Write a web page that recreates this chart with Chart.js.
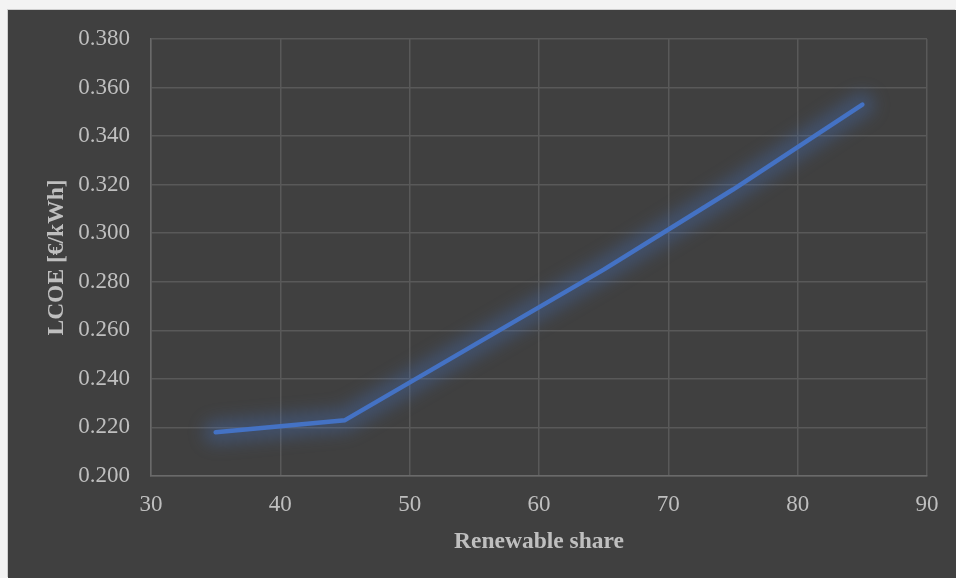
<!DOCTYPE html>
<html>
<head>
<meta charset="utf-8">
<script src="https://cdn.jsdelivr.net/npm/chart.js@4/dist/chart.umd.min.js"></script>
<style>
  html, body { margin: 0; padding: 0; background: #f3f3f3; }
  #frame {
    position: absolute; left: 8px; top: 10px;
    width: 948px; height: 568px;
    background: #404040;
    box-shadow: -1px -1px 0 #cfcfcf;
  }
  #frame canvas { display: block; }
</style>
</head>
<body>
<div id="frame"><canvas id="lcoeChart" width="948" height="568"></canvas></div>
<script>
// renewable share (%) vs LCOE (EUR/kWh)
const shares = [35, 45, 55, 65, 75, 85];
const lcoe = [0.218, 0.223, 0.254, 0.285, 0.318, 0.353];
const xTicks = [30, 40, 50, 60, 70, 80, 90];
const yTicks = [0.200, 0.220, 0.240, 0.260, 0.280, 0.300, 0.320, 0.340, 0.360, 0.380];

const serif = "'Liberation Serif', 'Times New Roman', serif";
const textGrey = '#bfbfbf';
const gridGrey = '#595959';

// wide blurred stroke under the line, follows the dataset's own points
const glow = {
  id: 'glow',
  beforeDatasetDraw(chart, args) {
    const pts = args.meta.data;
    if (!pts.length) return;
    const ctx = chart.ctx;
    ctx.save();
    ctx.filter = 'blur(8px)';
    ctx.strokeStyle = 'rgba(68, 114, 196, 0.32)';
    ctx.lineWidth = 24;
    ctx.lineJoin = 'round';
    ctx.lineCap = 'round';
    ctx.beginPath();
    ctx.moveTo(pts[0].x, pts[0].y);
    for (let i = 1; i < pts.length; i++) {
      ctx.lineTo(pts[i].x, pts[i].y);
    }
    ctx.stroke();
    ctx.restore();
  }
};

document.addEventListener('DOMContentLoaded', function () {
  const ctx = document.getElementById('lcoeChart').getContext('2d');

  const data = {
    datasets: [{
      label: 'LCOE',
      data: shares.map((s, i) => ({ x: s, y: lcoe[i] })),
      borderColor: '#4472C4',
      borderWidth: 4.5,
      borderCapStyle: 'round',
      borderJoinStyle: 'round',
      pointRadius: 0,
      tension: 0,
      fill: false
    }]
  };

  const options = {
    responsive: false,
    animation: false,
    layout: { padding: { top: 29, right: 29, left: 0, bottom: 0 } },
    scales: {
      x: {
        type: 'linear',
        min: 30,
        max: 90,
        afterBuildTicks: function (scale) {
          scale.ticks = xTicks.map(v => ({ value: v }));
        },
        afterFit: function (scale) { scale.height = 102; },
        grid: { color: gridGrey, lineWidth: 1.5, drawTicks: false },
        border: { color: '#6a6a6a', width: 1.5 },
        ticks: {
          color: textGrey,
          padding: 15,
          maxRotation: 0,
          font: { family: serif, size: 23 }
        },
        title: {
          display: true,
          text: 'Renewable share',
          color: textGrey,
          font: { family: serif, size: 23.5, weight: 'bold' },
          padding: { top: 0, bottom: 22 }
        }
      },
      y: {
        type: 'linear',
        min: 0.2,
        max: 0.38,
        afterBuildTicks: function (scale) {
          scale.ticks = yTicks.map(v => ({ value: v }));
        },
        afterFit: function (scale) {
          scale.width = 143;
          scale.paddingTop = 0;
          scale.paddingBottom = 0;
        },
        grid: { color: gridGrey, lineWidth: 1.5, drawTicks: false },
        border: { color: '#6a6a6a', width: 1.5 },
        ticks: {
          color: textGrey,
          padding: 21,
          font: { family: serif, size: 23 },
          callback: function (value) { return value.toFixed(3); }
        },
        title: {
          display: true,
          text: 'LCOE [€/kWh]',
          color: textGrey,
          font: { family: serif, size: 23.5, weight: 'bold' },
          padding: { top: 35, bottom: 0 }
        }
      }
    },
    plugins: {
      legend: { display: false },
      tooltip: { enabled: false }
    }
  };

  new Chart(ctx, {
    type: 'line',
    data: data,
    options: options,
    plugins: [glow]
  });
});
</script>
</body>
</html>
